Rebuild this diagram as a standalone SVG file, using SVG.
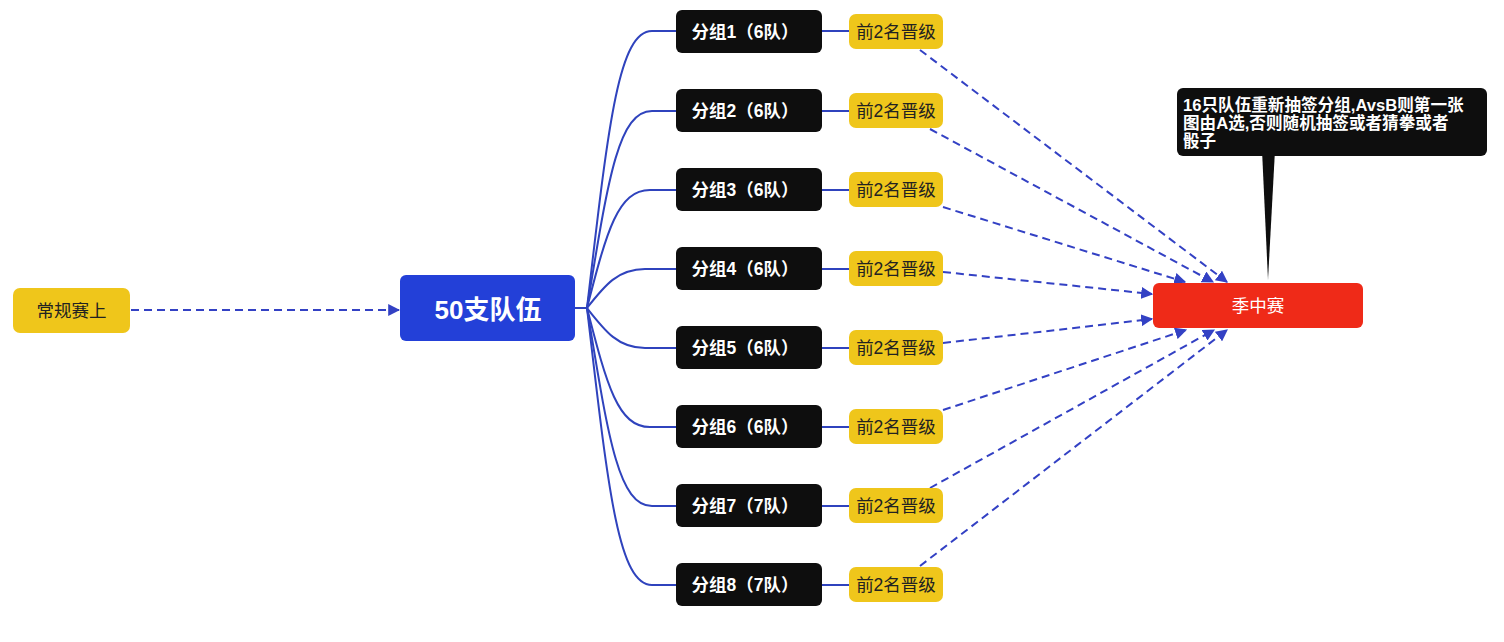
<svg xmlns="http://www.w3.org/2000/svg" width="1504" height="642" viewBox="0 0 1504 642">
<style>
.cjk{font-family:"Liberation Sans","Noto Sans CJK SC",sans-serif}
.grp rect{fill:#0e0e0e}
.grp text{fill:#fff;font-weight:bold;font-size:17.5px}
.adv rect{fill:#efc61b}
.adv text{fill:#222;font-size:17.5px}
.solid{fill:none;stroke:#2f43bd;stroke-width:2}
.dash{fill:none;stroke:#3341c4;stroke-width:2;stroke-dasharray:8 5;marker-end:url(#ah)}
</style>
<defs>
<marker id="ah" viewBox="0 0 10 10" refX="9" refY="5" markerWidth="6" markerHeight="6" orient="auto" markerUnits="strokeWidth">
<path d="M0,0 L10,5 L0,10 z" fill="#3341c4"/>
</marker>
</defs>
<rect width="1504" height="642" fill="#fff"/>

<g id="connectors">
<path class="dash" d="M131,310 L399,310"/>
<path class="solid" d="M575,308 L587,308"/>
<path class="solid" d="M587,308 C608,128 618,31 652,31 L676,31"/>
<path class="solid" d="M587,308 C608,180 618,111 652,111 L676,111"/>
<path class="solid" d="M587,308 C607,230 618,190 650,190 L676,190"/>
<path class="solid" d="M587,308 C605,285 618,269 645,269 L676,269"/>
<path class="solid" d="M587,308 C605,331 618,348 645,348 L676,348"/>
<path class="solid" d="M587,308 C607,386 618,427 650,427 L676,427"/>
<path class="solid" d="M587,308 C608,436 618,506 652,506 L676,506"/>
<path class="solid" d="M587,308 C608,488 618,585 652,585 L676,585"/>
<path class="solid" d="M822,31 L849,31 M822,111 L849,111 M822,190 L849,190 M822,269 L849,269 M822,348 L849,348 M822,427 L849,427 M822,506 L849,506 M822,585 L849,585"/>
<path class="dash" d="M920,50 L1227,282"/>
<path class="dash" d="M930,129 L1213,282"/>
<path class="dash" d="M943,207 L1185,282"/>
<path class="dash" d="M943,272 L1152,294"/>
<path class="dash" d="M943,343 L1152,319"/>
<path class="dash" d="M943,410 L1186,330"/>
<path class="dash" d="M930,488 L1214,330"/>
<path class="dash" d="M920,566 L1227,330"/>
</g>

<g id="regular" class="cjk">
<rect x="13" y="288" width="117" height="45" rx="7" fill="#efc61b"/>
<text x="71.5" y="316.5" text-anchor="middle" font-size="17.5" fill="#222">常规赛上</text>
</g>

<g id="teams" class="cjk">
<rect x="400" y="275" width="175" height="66" rx="6" fill="#2340d8"/>
<text x="488" y="318.5" text-anchor="middle" font-size="26" font-weight="bold" fill="#fff">50支队伍</text>
</g>

<g id="g1" class="grp cjk"><rect x="676" y="10" width="146" height="43" rx="6"/><text x="745" y="37.5" text-anchor="middle">分组1（6队）</text></g>
<g id="g2" class="grp cjk"><rect x="676" y="89" width="146" height="43" rx="6"/><text x="745" y="116.5" text-anchor="middle">分组2（6队）</text></g>
<g id="g3" class="grp cjk"><rect x="676" y="168" width="146" height="43" rx="6"/><text x="745" y="195.5" text-anchor="middle">分组3（6队）</text></g>
<g id="g4" class="grp cjk"><rect x="676" y="247" width="146" height="43" rx="6"/><text x="745" y="274.5" text-anchor="middle">分组4（6队）</text></g>
<g id="g5" class="grp cjk"><rect x="676" y="326" width="146" height="43" rx="6"/><text x="745" y="353.5" text-anchor="middle">分组5（6队）</text></g>
<g id="g6" class="grp cjk"><rect x="676" y="405" width="146" height="43" rx="6"/><text x="745" y="432.5" text-anchor="middle">分组6（6队）</text></g>
<g id="g7" class="grp cjk"><rect x="676" y="484" width="146" height="43" rx="6"/><text x="745" y="511.5" text-anchor="middle">分组7（7队）</text></g>
<g id="g8" class="grp cjk"><rect x="676" y="563" width="146" height="43" rx="6"/><text x="745" y="590.5" text-anchor="middle">分组8（7队）</text></g>

<g id="a1" class="adv cjk"><rect x="849" y="14" width="94" height="35" rx="7"/><text x="896" y="38" text-anchor="middle">前2名晋级</text></g>
<g id="a2" class="adv cjk"><rect x="849" y="93" width="94" height="35" rx="7"/><text x="896" y="117" text-anchor="middle">前2名晋级</text></g>
<g id="a3" class="adv cjk"><rect x="849" y="172" width="94" height="35" rx="7"/><text x="896" y="196" text-anchor="middle">前2名晋级</text></g>
<g id="a4" class="adv cjk"><rect x="849" y="251" width="94" height="35" rx="7"/><text x="896" y="275" text-anchor="middle">前2名晋级</text></g>
<g id="a5" class="adv cjk"><rect x="849" y="330" width="94" height="35" rx="7"/><text x="896" y="354" text-anchor="middle">前2名晋级</text></g>
<g id="a6" class="adv cjk"><rect x="849" y="409" width="94" height="35" rx="7"/><text x="896" y="433" text-anchor="middle">前2名晋级</text></g>
<g id="a7" class="adv cjk"><rect x="849" y="488" width="94" height="35" rx="7"/><text x="896" y="512" text-anchor="middle">前2名晋级</text></g>
<g id="a8" class="adv cjk"><rect x="849" y="567" width="94" height="35" rx="7"/><text x="896" y="591" text-anchor="middle">前2名晋级</text></g>

<g id="midseason" class="cjk">
<rect x="1153" y="283" width="210" height="45" rx="6" fill="#ef2a18"/>
<text x="1258" y="312" text-anchor="middle" font-size="17.5" fill="#fff">季中赛</text>
</g>

<g id="callout" class="cjk">
<path d="M1262,150 L1275,150 L1268,280 z" fill="#0e0e0e"/>
<rect x="1177" y="88" width="310" height="68" rx="6" fill="#0e0e0e"/>
<text font-size="16.6" font-weight="bold" fill="#fff">
<tspan x="1183" y="111">16只队伍重新抽签分组,AvsB则第一张</tspan>
<tspan x="1183" y="129">图由A选,否则随机抽签或者猜拳或者</tspan>
<tspan x="1183" y="147">骰子</tspan>
</text>
</g>
</svg>
